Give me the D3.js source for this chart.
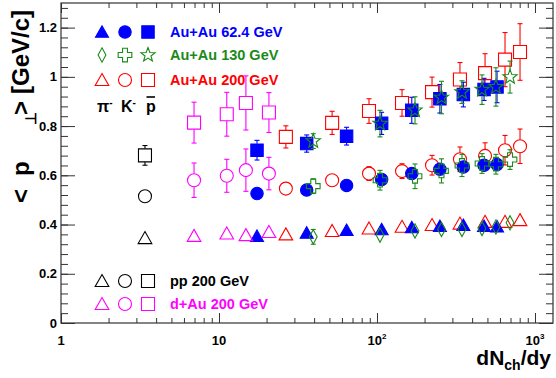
<!DOCTYPE html>
<html>
<head>
<meta charset="UTF-8">
<script src="https://d3js.org/d3.v7.min.js"></script>
<style>
  body { margin: 0; background: #fff; }
  svg { display: block; font-family: "Liberation Sans", Arial, Helvetica, sans-serif; font-weight: bold; }
</style>
</head>
<body>
<svg id="chart" width="556" height="378"></svg>
<script>
  // ---- data (dNch/dy, <pT> and errors) ----
  var xAuAu62 = [17.4, 35.9, 64.2, 107, 166, 250, 352, 476, 575];
  var piAuAu62 = [0.353, 0.366, 0.377, 0.380, 0.388, 0.393, 0.397, 0.393, 0.391];
  var piErrAuAu62 = [0.012, 0.012, 0.012, 0.012, 0.012, 0.012, 0.012, 0.012, 0.012];
  var kAuAu62 = [0.526, 0.540, 0.559, 0.583, 0.607, 0.625, 0.634, 0.641, 0.644];
  var kErrAuAu62 = [0.02, 0.02, 0.02, 0.02, 0.025, 0.025, 0.025, 0.025, 0.025];
  var pbarAuAu62 = [0.702, 0.729, 0.759, 0.811, 0.864, 0.911, 0.928, 0.949, 0.959];
  var pbarErrAuAu62 = [0.04, 0.035, 0.036, 0.045, 0.053, 0.058, 0.05, 0.045, 0.064];

  var xAuAu130 = [39.5, 104.5, 174, 256, 345, 462, 566, 695];
  var piAuAu130 = [0.350, 0.357, 0.374, 0.380, 0.380, 0.384, 0.390, 0.407];
  var piErrAuAu130 = [0.03, 0.02, 0.02, 0.02, 0.02, 0.02, 0.02, 0.02];
  var kAuAu130 = [0.556, 0.580, 0.596, 0.618, 0.640, 0.648, 0.645, 0.664];
  var kErrAuAu130 = [0.03, 0.04, 0.05, 0.049, 0.045, 0.04, 0.04, 0.04];
  var pbarAuAu130 = [0.739, 0.810, 0.864, 0.916, 0.938, 0.948, 0.959, 0.999];
  var pbarErrAuAu130 = [0.03, 0.054, 0.055, 0.066, 0.046, 0.06, 0.078, 0.065];

  var xAuAu200 = [26.5, 52, 89, 144, 223, 335, 483, 646, 804];
  var piAuAu200 = [0.360, 0.374, 0.384, 0.391, 0.398, 0.404, 0.411, 0.411, 0.418];
  var piErrAuAu200 = [0.02, 0.02, 0.02, 0.02, 0.02, 0.02, 0.02, 0.02, 0.02];
  var kAuAu200 = [0.546, 0.580, 0.607, 0.617, 0.641, 0.665, 0.679, 0.702, 0.718];
  var kErrAuAu200 = [0.025, 0.025, 0.028, 0.03, 0.04, 0.05, 0.053, 0.06, 0.07];
  var pbarAuAu200 = [0.756, 0.813, 0.861, 0.894, 0.938, 0.989, 1.015, 1.070, 1.101];
  var pbarErrAuAu200 = [0.045, 0.047, 0.05, 0.054, 0.061, 0.069, 0.079, 0.11, 0.115];

  var xPP = [3.4];
  var piPP = [0.345], piErrPP = [0.01];
  var kPP = [0.515], kErrPP = [0.015];
  var pbarPP = [0.681], pbarErrPP = [0.04];

  var xDAu = [6.95, 11.2, 14.8, 20.7];
  var piDAu = [0.354, 0.364, 0.357, 0.370];
  var piErrDAu = [0.015, 0.015, 0.015, 0.015];
  var kDAu = [0.580, 0.598, 0.621, 0.607];
  var kErrDAu = [0.07, 0.067, 0.086, 0.066];
  var pbarDAu = [0.814, 0.848, 0.894, 0.855];
  var pbarErrDAu = [0.083, 0.089, 0.11, 0.081];

  var xTickValues = [1, 10, 100, 1000];
  var xTickExp = ['', '', '2', '3'];
  var yTickValues = [0, 0.2, 0.4, 0.6, 0.8, 1, 1.2];

  var BLUE = '#0000ff', GREEN = '#1a8a1a', RED = '#ff0000', MAG = '#ff00ff', BLACK = '#000000';

  // ---- layout ----
  // (don't call these top/left: window.top is read-only)
  var padL = 61, padR = 553, padT = 3, padB = 323;
  var svg = d3.select('#chart');

  var x = d3.scaleLog().domain([1, 1300]).range([padL, padR]);
  var y = d3.scaleLinear().domain([0, 1.3]).range([padB, padT]);

  // minor ticks
  var xMinor = [];
  [1, 10, 100, 1000].forEach(function (d) {
    for (var k = 2; k <= 9; k++) if (d * k < 1300) xMinor.push(d * k);
  });
  var yMinor = d3.range(0, 1.29, 0.04);

  function tickAxis(axisFn, scale, vals, len, tr) {
    svg.append('g')
      .attr('transform', tr)
      .call(axisFn(scale).tickValues(vals).tickSize(-len).tickFormat(''))
      .call(function (g) { g.select('.domain').remove(); g.selectAll('line').attr('stroke', '#333'); });
  }
  tickAxis(d3.axisBottom, x, xTickValues, 10, 'translate(0,' + padB + ')');
  tickAxis(d3.axisBottom, x, xMinor, 5, 'translate(0,' + padB + ')');
  tickAxis(d3.axisTop, x, xTickValues, 10, 'translate(0,' + padT + ')');
  tickAxis(d3.axisTop, x, xMinor, 5, 'translate(0,' + padT + ')');
  tickAxis(d3.axisLeft, y, yTickValues, 14, 'translate(' + padL + ',0)');
  tickAxis(d3.axisLeft, y, yMinor, 7, 'translate(' + padL + ',0)');
  tickAxis(d3.axisRight, y, yTickValues, 14, 'translate(' + padR + ',0)');
  tickAxis(d3.axisRight, y, yMinor, 7, 'translate(' + padR + ',0)');

  svg.append('rect')
    .attr('x', padL).attr('y', padT)
    .attr('width', padR - padL).attr('height', padB - padT)
    .attr('fill', 'none').attr('stroke', '#333').attr('stroke-width', 1.2);

  // tick labels
  svg.selectAll('.ylab').data(yTickValues).enter().append('text')
    .attr('x', padL - 4).attr('y', function (d) { return y(d) + 4.5; })
    .attr('text-anchor', 'end').attr('font-size', 13)
    .text(function (d) { return String(+d.toFixed(1)); });

  var xl = svg.selectAll('.xlab').data(xTickValues).enter().append('text')
    .attr('x', function (d) { return x(d); }).attr('y', 345)
    .attr('text-anchor', 'middle').attr('font-size', 13);
  xl.append('tspan').text(function (d, i) { return i === 0 ? '1' : '10'; });
  xl.append('tspan').attr('dy', -6).attr('font-size', 8)
    .text(function (d, i) { return xTickExp[i]; });

  // axis titles
  var xt = svg.append('text').attr('x', 551).attr('y', 365)
    .attr('text-anchor', 'end').attr('font-size', 21);
  xt.append('tspan').text('dN');
  xt.append('tspan').attr('font-size', 14).attr('dy', 5).text('ch');
  xt.append('tspan').attr('dy', -5).text('/dy');

  var ytg = svg.append('g').attr('transform', 'translate(29,203) rotate(-90)');
  ytg.append('text').attr('x', 0).attr('font-size', 24).text('<');
  ytg.append('text').attr('x', 27).attr('font-size', 24).text('p');
  ytg.append('text').attr('x', 78).attr('y', 7).attr('font-size', 15).text('\u22a5');
  ytg.append('text').attr('x', 88).attr('font-size', 24).text('>');
  ytg.append('text').attr('x', 193).attr('text-anchor', 'end').attr('font-size', 24).text('[GeV/c]');

  // ---- markers ----
  var MS = 6.5;
  function markerPath(shape, s) {
    var p = d3.path();
    if (shape === 'triangle') {
      p.moveTo(0, -s); p.lineTo(s * 1.05, s * 0.85); p.lineTo(-s * 1.05, s * 0.85); p.closePath();
    } else if (shape === 'circle') {
      p.moveTo(s, 0); p.arc(0, 0, s, 0, 2 * Math.PI);
    } else if (shape === 'square') {
      p.rect(-s, -s, 2 * s, 2 * s);
    } else if (shape === 'diamond') {
      p.moveTo(0, -s * 1.1); p.lineTo(s * 0.6, 0); p.lineTo(0, s * 1.1); p.lineTo(-s * 0.6, 0); p.closePath();
    } else if (shape === 'cross') {
      var a = s * 0.38, b = s * 1.05;
      p.moveTo(-a, -b); p.lineTo(a, -b); p.lineTo(a, -a); p.lineTo(b, -a); p.lineTo(b, a);
      p.lineTo(a, a); p.lineTo(a, b); p.lineTo(-a, b); p.lineTo(-a, a); p.lineTo(-b, a);
      p.lineTo(-b, -a); p.lineTo(-a, -a); p.closePath();
    } else if (shape === 'star') {
      for (var i = 0; i < 10; i++) {
        var r = i % 2 === 0 ? s * 1.15 : s * 0.48;
        var ang = -Math.PI / 2 + i * Math.PI / 5;
        if (i === 0) p.moveTo(r * Math.cos(ang), r * Math.sin(ang));
        else p.lineTo(r * Math.cos(ang), r * Math.sin(ang));
      }
      p.closePath();
    }
    return p.toString();
  }

  function drawMarker(g, shape, color, filled, cx, cy) {
    g.append('path')
      .attr('d', markerPath(shape, filled ? MS - 0.3 : MS))
      .attr('transform', 'translate(' + cx + ',' + cy + ')')
      .attr('fill', filled ? color : 'none')
      .attr('stroke', color).attr('stroke-width', 1.1);
  }

  var series = [
    { xs: xAuAu200, ys: piAuAu200, es: piErrAuAu200, shape: 'triangle', color: RED, filled: false },
    { xs: xAuAu200, ys: kAuAu200, es: kErrAuAu200, shape: 'circle', color: RED, filled: false },
    { xs: xAuAu200, ys: pbarAuAu200, es: pbarErrAuAu200, shape: 'square', color: RED, filled: false },
    { xs: xAuAu62, ys: piAuAu62, es: piErrAuAu62, shape: 'triangle', color: BLUE, filled: true },
    { xs: xAuAu62, ys: kAuAu62, es: kErrAuAu62, shape: 'circle', color: BLUE, filled: true },
    { xs: xAuAu62, ys: pbarAuAu62, es: pbarErrAuAu62, shape: 'square', color: BLUE, filled: true },
    { xs: xAuAu130, ys: piAuAu130, es: piErrAuAu130, shape: 'diamond', color: GREEN, filled: false },
    { xs: xAuAu130, ys: kAuAu130, es: kErrAuAu130, shape: 'cross', color: GREEN, filled: false },
    { xs: xAuAu130, ys: pbarAuAu130, es: pbarErrAuAu130, shape: 'star', color: GREEN, filled: false },
    { xs: xPP, ys: piPP, es: piErrPP, shape: 'triangle', color: BLACK, filled: false },
    { xs: xPP, ys: kPP, es: kErrPP, shape: 'circle', color: BLACK, filled: false },
    { xs: xPP, ys: pbarPP, es: pbarErrPP, shape: 'square', color: BLACK, filled: false },
    { xs: xDAu, ys: piDAu, es: piErrDAu, shape: 'triangle', color: MAG, filled: false },
    { xs: xDAu, ys: kDAu, es: kErrDAu, shape: 'circle', color: MAG, filled: false },
    { xs: xDAu, ys: pbarDAu, es: pbarErrDAu, shape: 'square', color: MAG, filled: false }
  ];

  var plot = svg.append('g');
  series.forEach(function (s) {
    var g = plot.append('g');
    s.xs.forEach(function (xv, i) {
      var cx = x(xv), cy = y(s.ys[i]);
      var yHi = y(s.ys[i] + s.es[i]), yLo = y(s.ys[i] - s.es[i]);
      var eg = g.append('g').attr('stroke', s.color).attr('stroke-width', 1.1);
      if (cy - yHi > MS) {
        eg.append('line').attr('x1', cx).attr('x2', cx).attr('y1', yHi).attr('y2', cy - MS);
        eg.append('line').attr('x1', cx - 2.5).attr('x2', cx + 2.5).attr('y1', yHi).attr('y2', yHi);
      }
      if (yLo - cy > MS) {
        eg.append('line').attr('x1', cx).attr('x2', cx).attr('y1', cy + MS).attr('y2', yLo);
        eg.append('line').attr('x1', cx - 2.5).attr('x2', cx + 2.5).attr('y1', yLo).attr('y2', yLo);
      }
      drawMarker(g, s.shape, s.color, s.filled, cx, cy);
    });
  });

  // ---- legends ----
  var legendCols = [102, 125, 148];
  var legendRows = [
    { y: 32, shapes: ['triangle', 'circle', 'square'], color: BLUE, filled: true, label: 'Au+Au 62.4 GeV' },
    { y: 55, shapes: ['diamond', 'cross', 'star'], color: GREEN, filled: false, label: 'Au+Au 130 GeV' },
    { y: 80, shapes: ['triangle', 'circle', 'square'], color: RED, filled: false, label: 'Au+Au 200 GeV' },
    { y: 281, shapes: ['triangle', 'circle', 'square'], color: BLACK, filled: false, label: 'pp 200 GeV' },
    { y: 304, shapes: ['triangle', 'circle', 'square'], color: MAG, filled: false, label: 'd+Au 200 GeV' }
  ];
  var lg = svg.append('g');
  legendRows.forEach(function (r) {
    r.shapes.forEach(function (sh, i) {
      drawMarker(lg, sh, r.color, r.filled, legendCols[i], r.y);
    });
    lg.append('text').attr('x', 170).attr('y', r.y + 5)
      .attr('font-size', 14.5).attr('fill', r.color).text(r.label);
  });

  // particle labels
  var pl = lg.append('g').attr('font-size', 16);
  var t1 = pl.append('text').attr('x', 97).attr('y', 112);
  t1.append('tspan').text('\u03c0');
  t1.append('tspan').attr('dy', -6).attr('font-size', 10).text('-');
  var t2 = pl.append('text').attr('x', 121).attr('y', 112);
  t2.append('tspan').text('K');
  t2.append('tspan').attr('dy', -6).attr('font-size', 10).text('-');
  pl.append('text').attr('x', 146).attr('y', 112).text('p');
  pl.append('line').attr('x1', 146.5).attr('x2', 155).attr('y1', 97).attr('y2', 97)
    .attr('stroke', '#000').attr('stroke-width', 1.6);
</script>
</body>
</html>
